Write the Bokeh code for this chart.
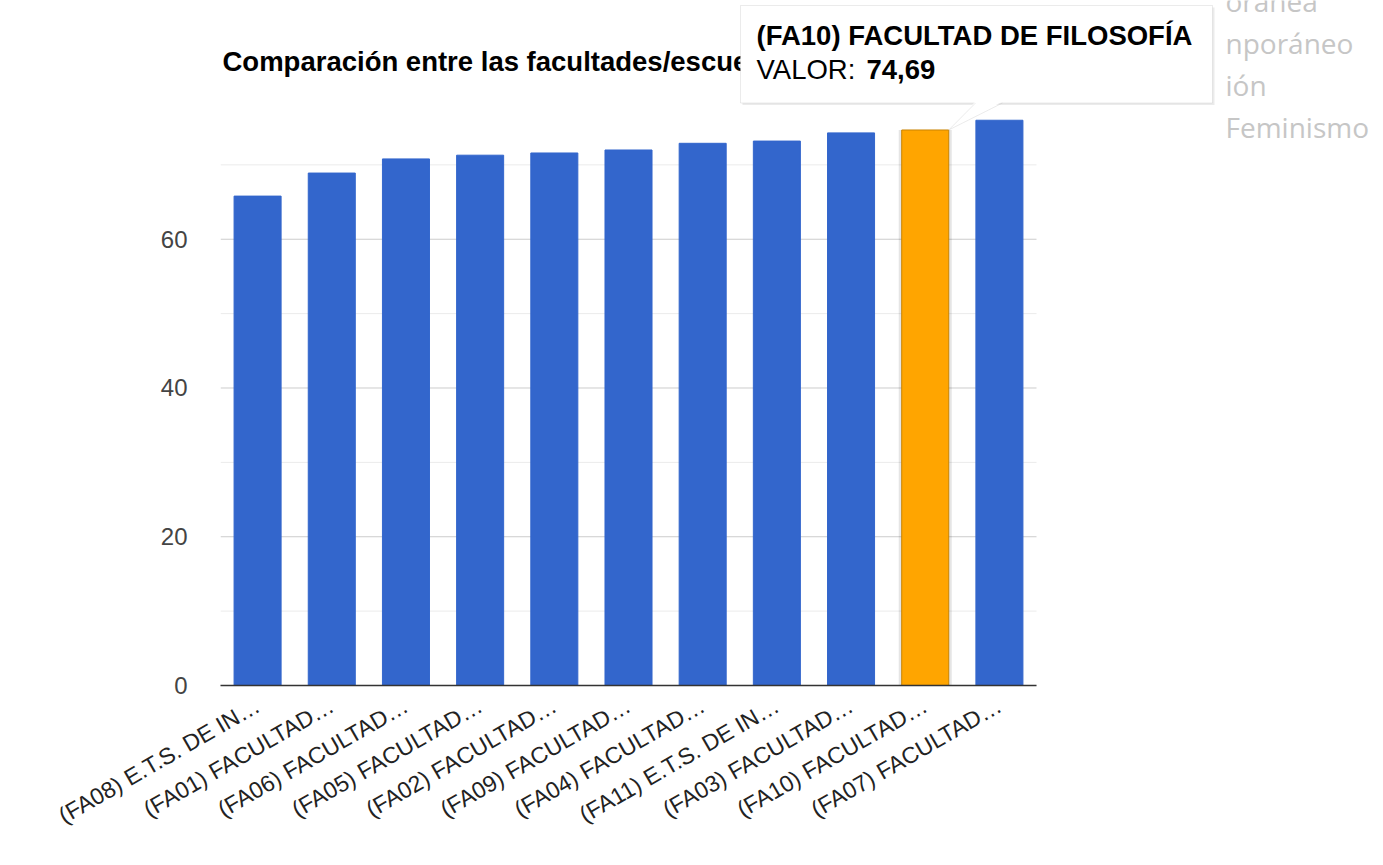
import math
from bokeh.plotting import figure
from bokeh.models import Range1d, FixedTicker, Label, BoxAnnotation, PolyAnnotation
from bokeh.embed import file_html
from bokeh.resources import INLINE

# ---------------- data ----------------
categories = ["(FA08) E.T.S. DE IN…", "(FA01) FACULTAD…", "(FA06) FACULTAD…",
              "(FA05) FACULTAD…", "(FA02) FACULTAD…", "(FA09) FACULTAD…",
              "(FA04) FACULTAD…", "(FA11) E.T.S. DE IN…", "(FA03) FACULTAD…",
              "(FA10) FACULTAD…", "(FA07) FACULTAD…"]
values = [65.8, 68.9, 70.8, 71.3, 71.6, 72.0, 72.9, 73.2, 74.3, 74.69, 76.0]
highlight = "(FA10) FACULTAD…"
y_ticks = [0, 20, 40, 60]
y_minor_ticks = [10, 30, 50, 70]
chart_title = "Comparación entre las facultades/escuelas"
tooltip_title = "(FA10) FACULTAD DE FILOSOFÍA"
tooltip_label = "VALOR:"
tooltip_value = "74,69"
side_texts = ["oránea", "nporáneo", "ión", "Feminismo"]

# ---------------- layout ----------------
W, H = 1383, 865
BL, BB = 220, 180            # left / bottom panels (axes)
PLOT_W = 816                 # width of the bar area in px
N = len(categories)
FONT = "Liberation Sans"
BAR_W = 0.634

frame_w = W - BL
frame_h = H - BB
x_end = N * frame_w / PLOT_W
y_end = 92.1
ux = x_end / frame_w          # data units per px
uy = y_end / frame_h


def dx(px):   # canvas px -> data x
    return (px - BL) * ux


def dy(py):   # canvas px -> data y
    return (frame_h - py) * uy


p = figure(width=W, height=H, x_range=Range1d(0, x_end), y_range=Range1d(0, y_end),
           output_backend="svg", toolbar_location=None,
           min_border_left=BL, min_border_right=0, min_border_top=0, min_border_bottom=BB)
p.outline_line_color = None
p.xgrid.visible = False
p.ygrid.visible = False

centers = [i + 0.5 for i in range(N)]

# grid lines limited to the bar area
p.segment(x0=[0] * len(y_minor_ticks), x1=[N] * len(y_minor_ticks), y0=y_minor_ticks,
          y1=y_minor_ticks, line_color="#ebebeb", line_width=1)
p.segment(x0=[0] * len(y_ticks), x1=[N] * len(y_ticks), y0=y_ticks, y1=y_ticks,
          line_color="#cccccc", line_width=1)

colors = ["#ffa500" if c == highlight else "#3366cc" for c in categories]
lines = ["#c98300" if c == highlight else "#3366cc" for c in categories]

hi = categories.index(highlight)
p.vbar(x=[centers[hi]], top=[values[hi]], width=BAR_W + 6 * ux, bottom=0,
       fill_color="black", fill_alpha=0.10, line_color=None)
p.vbar(x=centers, top=values, width=BAR_W, bottom=0, fill_color=colors,
       line_color=lines, line_width=1)

# y axis
p.yaxis.ticker = FixedTicker(ticks=y_ticks)
p.yaxis.axis_line_color = None
p.yaxis.major_tick_line_color = None
p.yaxis.minor_tick_line_color = None
p.yaxis.major_label_text_font = FONT
p.yaxis.major_label_text_font_size = "24px"
p.yaxis.major_label_text_color = "#444444"
p.yaxis.major_label_standoff = 27

# x axis
p.xaxis.ticker = FixedTicker(ticks=centers)
p.xaxis.major_label_overrides = {c: lab for c, lab in zip(centers, categories)}
p.xaxis.bounds = (0, N)
p.xaxis.axis_line_color = "#333333"
p.xaxis.axis_line_width = 1.5
p.xaxis.major_tick_line_color = None
p.xaxis.minor_tick_line_color = None
p.xaxis.major_label_orientation = math.pi / 6
p.xaxis.major_label_text_font = FONT
p.xaxis.major_label_text_font_size = "23px"
p.xaxis.major_label_text_color = "#222222"
p.xaxis.major_label_standoff = 12

# chart title
p.add_layout(Label(x=dx(222), y=dy(61), text=chart_title, text_font=FONT,
                   text_font_size="27.5px", text_font_style="bold", text_color="black",
                   text_baseline="alphabetic"))

# light grey text at right (partly behind tooltip)
for i, t in enumerate(side_texts):
    p.add_layout(Label(x=dx(1225), y=dy(0 + 42 * i), text=t, text_font="Open Sans",
                       text_font_size="28px", text_color="#c6c6c6",
                       text_baseline="alphabetic"))

# tooltip
box_l, box_r, box_t, box_b = dx(740), dx(1212), dy(5), dy(102.5)
p.add_layout(BoxAnnotation(left=box_l + 2 * ux, right=box_r + 2 * ux,
                           top=box_t - 2 * uy, bottom=box_b - 2 * uy,
                           fill_color="black", fill_alpha=0.08, line_color=None,
                           level="overlay"))
p.add_layout(BoxAnnotation(left=box_l, right=box_r, top=box_t, bottom=box_b,
                           fill_color="white", fill_alpha=1.0, line_color="#bdbdbd",
                           line_width=1, level="overlay"))
tip_x = centers[hi] + BAR_W / 2
tip_y = values[hi]
b0, b1 = dx(975), dx(1002)
p.add_layout(PolyAnnotation(xs=[b0, tip_x, b1], ys=[box_b + 1.5 * uy, tip_y, box_b + 1.5 * uy],
                            fill_color="white", fill_alpha=1.0, line_color=None,
                            level="overlay"))
for bx in (b0, b1):
    p.add_layout(PolyAnnotation(xs=[bx, tip_x], ys=[box_b, tip_y], fill_alpha=0,
                                line_color="#bdbdbd", line_width=1, level="overlay"))
p.add_layout(Label(x=dx(756), y=dy(35), text=tooltip_title, text_font=FONT,
                   text_font_size="27.5px", text_font_style="bold", text_color="black",
                   text_baseline="alphabetic", level="overlay"))
p.add_layout(Label(x=dx(756), y=dy(69), text=tooltip_label, text_font=FONT,
                   text_font_size="27.5px", text_color="black",
                   text_baseline="alphabetic", level="overlay"))
p.add_layout(Label(x=dx(756), y=dy(69), x_offset=110, text=tooltip_value, text_font=FONT,
                   text_font_size="27.5px", text_font_style="bold", text_color="black",
                   text_baseline="alphabetic", level="overlay"))

open("out.html", "w").write(file_html(p, INLINE))
